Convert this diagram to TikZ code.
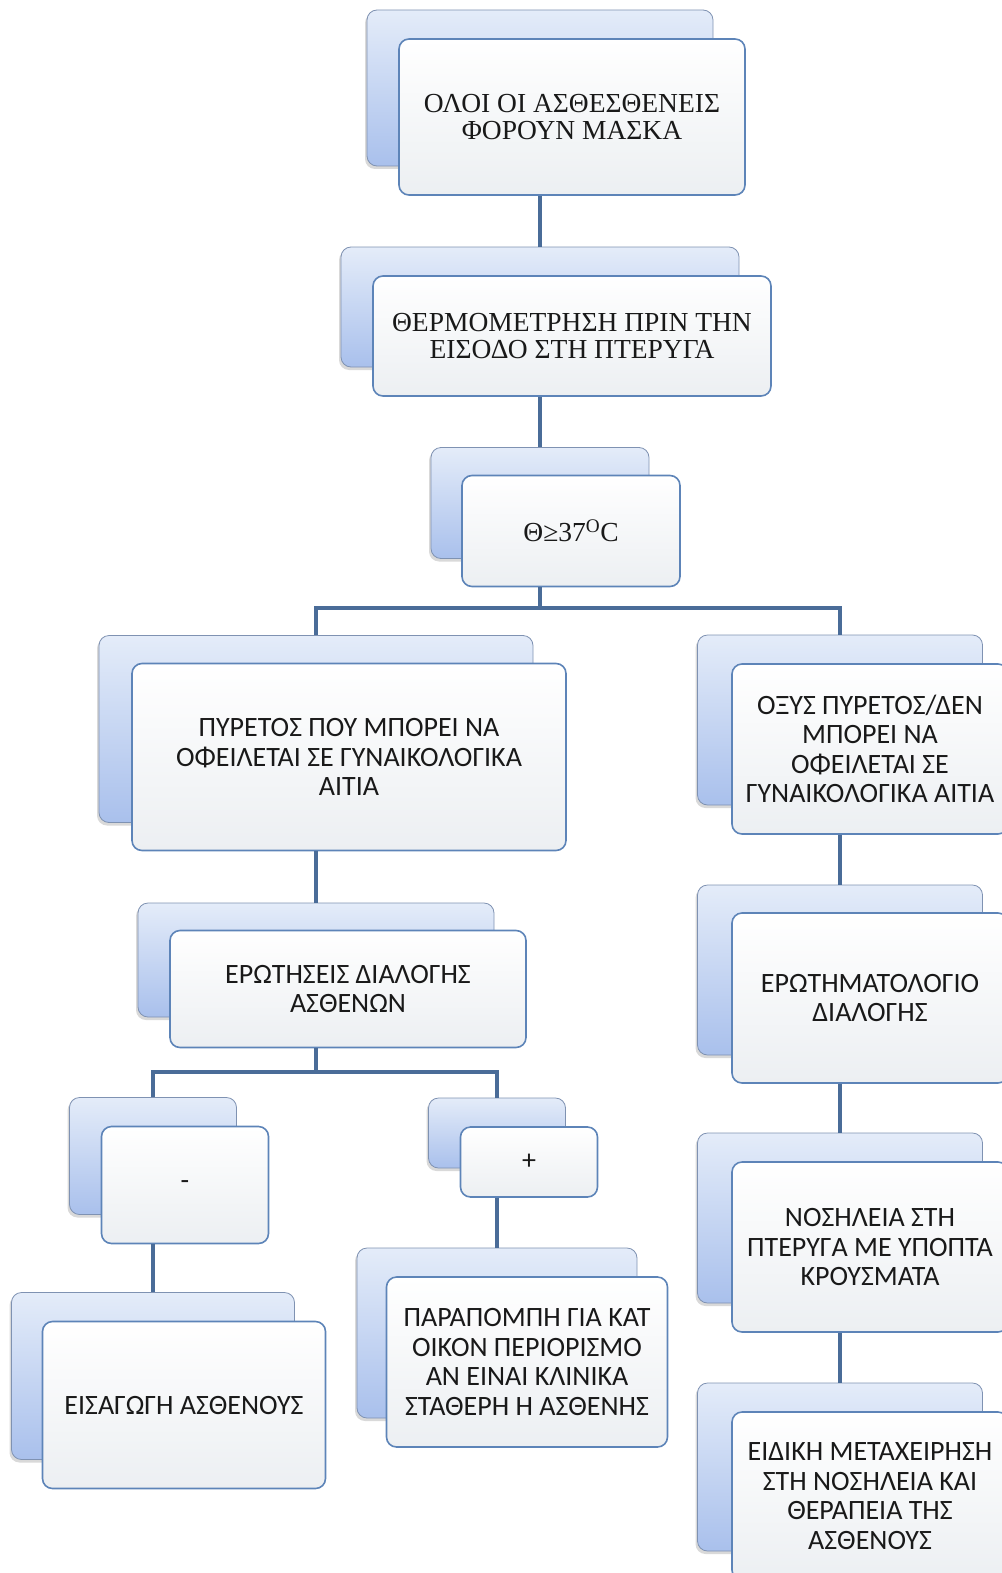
\documentclass[tikz,border=0pt]{standalone}
\usepackage{fontspec}
\setmainfont{Carlito}
\newfontfamily\timesfont{Liberation Serif}
\usepackage{tikz}
\usetikzlibrary{shadows}
\definecolor{backtop}{HTML}{E4ECF9}
\definecolor{backbot}{HTML}{A9C0EC}
\definecolor{backline}{HTML}{7F92B2}
\definecolor{frontline}{HTML}{5D84B8}
\definecolor{frontbot}{HTML}{ECEFF2}
\definecolor{linkblue}{HTML}{4A6C98}

\begin{document}
\begin{tikzpicture}[
  x=1pt, y=-1pt,
  backbox/.style={draw=backline, line width=0.8pt, rounded corners=10pt,
    top color=backtop, bottom color=backbot,
    drop shadow={shadow xshift=-2pt, shadow yshift=-3pt, opacity=0.3}},
  frontbox/.style={draw=frontline, line width=1.6pt, rounded corners=10pt,
    top color=white, bottom color=frontbot, align=center, inner sep=2pt,
    text=black!90, font=\fontsize{28}{29.5}\selectfont},
  serif/.style={font=\timesfont\fontsize{27.5}{26.5}\selectfont},
  link/.style={draw=linkblue, line width=3.5pt}
]
\useasboundingbox (0,0) rectangle (1001,1573);

% central column
\node[backbox, minimum width=346pt, minimum height=156pt] (maskb) at (540,88) {};
\node[frontbox, serif, minimum width=346pt, minimum height=156pt] (mask)
  at ([shift={(32,29)}]maskb.center) {ΟΛΟΙ ΟΙ ΑΣΘΕΣΘΕΝΕΙΣ\\ΦΟΡΟΥΝ ΜΑΣΚΑ};
\node[backbox, minimum width=398pt, minimum height=120pt] (thermob) at (540,307) {};
\node[frontbox, serif, minimum width=398pt, minimum height=120pt] (thermo)
  at ([shift={(32,29)}]thermob.center) {ΘΕΡΜΟΜΕΤΡΗΣΗ ΠΡΙΝ ΤΗΝ\\ΕΙΣΟΔΟ ΣΤΗ ΠΤΕΡΥΓΑ};
\node[backbox, minimum width=218pt, minimum height=111pt] (tempb) at (540,503) {};
\node[frontbox, serif, minimum width=218pt, minimum height=111pt] (temp)
  at ([shift={(31,28)}]tempb.center) {Θ≥37\textsuperscript{O}C};

% left branch
\node[backbox, minimum width=434pt, minimum height=187pt] (gynb) at (316,729) {};
\node[frontbox, minimum width=434pt, minimum height=187pt] (gyn)
  at ([shift={(33,28)}]gynb.center) {ΠΥΡΕΤΟΣ ΠΟΥ ΜΠΟΡΕΙ ΝΑ\\ΟΦΕΙΛΕΤΑΙ ΣΕ ΓΥΝΑΙΚΟΛΟΓΙΚΑ\\ΑΙΤΙΑ};
\node[backbox, minimum width=356pt, minimum height=114pt] (triageb) at (316,960) {};
\node[frontbox, minimum width=356pt, minimum height=117pt] (triage)
  at ([shift={(32,29)}]triageb.center) {ΕΡΩΤΗΣΕΙΣ ΔΙΑΛΟΓΗΣ\\ΑΣΘΕΝΩΝ};
\node[backbox, minimum width=167pt, minimum height=117pt] (negb) at (153,1156) {};
\node[frontbox, minimum width=167pt, minimum height=117pt] (neg)
  at ([shift={(32,29)}]negb.center) {-};
\node[backbox, minimum width=283pt, minimum height=167pt] (admitb) at (153,1376) {};
\node[frontbox, minimum width=283pt, minimum height=167pt] (admit)
  at ([shift={(31,29)}]admitb.center) {ΕΙΣΑΓΩΓΗ ΑΣΘΕΝΟΥΣ};
\node[backbox, minimum width=137pt, minimum height=70pt] (posb) at (497,1133) {};
\node[frontbox, minimum width=137pt, minimum height=70pt] (pos)
  at ([shift={(32,29)}]posb.center) {+};
\node[backbox, minimum width=280pt, minimum height=170pt] (homeb) at (497,1333) {};
\node[frontbox, minimum width=281pt, minimum height=170pt] (home)
  at ([shift={(30,29)}]homeb.center) {ΠΑΡΑΠΟΜΠΗ ΓΙΑ ΚΑΤ\\ΟΙΚΟΝ ΠΕΡΙΟΡΙΣΜΟ\\ΑΝ ΕΙΝΑΙ ΚΛΙΝΙΚΑ\\ΣΤΑΘΕΡΗ Η ΑΣΘΕΝΗΣ};

% right branch
\node[backbox, minimum width=285pt, minimum height=170pt] (acuteb) at (840,720) {};
\node[frontbox, minimum width=276pt, minimum height=170pt] (acute)
  at ([shift={(30,29)}]acuteb.center) {ΟΞΥΣ ΠΥΡΕΤΟΣ/ΔΕΝ\\ΜΠΟΡΕΙ ΝΑ\\ΟΦΕΙΛΕΤΑΙ ΣΕ\\ΓΥΝΑΙΚΟΛΟΓΙΚΑ ΑΙΤΙΑ};
\node[backbox, minimum width=285pt, minimum height=170pt] (questb) at (840,970) {};
\node[frontbox, minimum width=276pt, minimum height=170pt] (quest)
  at ([shift={(30,28)}]questb.center) {ΕΡΩΤΗΜΑΤΟΛΟΓΙΟ\\ΔΙΑΛΟΓΗΣ};
\node[backbox, minimum width=285pt, minimum height=170pt] (wardb) at (840,1218) {};
\node[frontbox, minimum width=276pt, minimum height=170pt] (ward)
  at ([shift={(30,29)}]wardb.center) {ΝΟΣΗΛΕΙΑ ΣΤΗ\\ΠΤΕΡΥΓΑ ΜΕ ΥΠΟΠΤΑ\\ΚΡΟΥΣΜΑΤΑ};
\node[backbox, minimum width=285pt, minimum height=168pt] (careb) at (840,1467) {};
\node[frontbox, minimum width=276pt, minimum height=168pt] (care)
  at ([shift={(30,29)}]careb.center) {ΕΙΔΙΚΗ ΜΕΤΑΧΕΙΡΗΣΗ\\ΣΤΗ ΝΟΣΗΛΕΙΑ ΚΑΙ\\ΘΕΡΑΠΕΙΑ ΤΗΣ\\ΑΣΘΕΝΟΥΣ};

% connectors
\coordinate (fork1) at (540,608);
\coordinate (fork2) at (316,1072);
\draw[link] (mask.south -| maskb.center) -- (thermob.north);
\draw[link] (thermo.south -| thermob.center) -- (tempb.north);
\draw[link] (temp.south -| fork1) -- (fork1);
\draw[link] (gynb.north) |- (fork1) -| (acuteb.north);
\draw[link] (gyn.south -| gynb.center) -- (triageb.north);
\draw[link] (triage.south -| fork2) -- (fork2);
\draw[link] (negb.north) |- (fork2) -| (posb.north);
\draw[link] (neg.south -| negb.center) -- (admitb.north);
\draw[link] (pos.south -| posb.center) -- (homeb.north);
\draw[link] (acute.south -| acuteb.center) -- (questb.north);
\draw[link] (quest.south -| questb.center) -- (wardb.north);
\draw[link] (ward.south -| wardb.center) -- (careb.north);
\end{tikzpicture}
\end{document}
